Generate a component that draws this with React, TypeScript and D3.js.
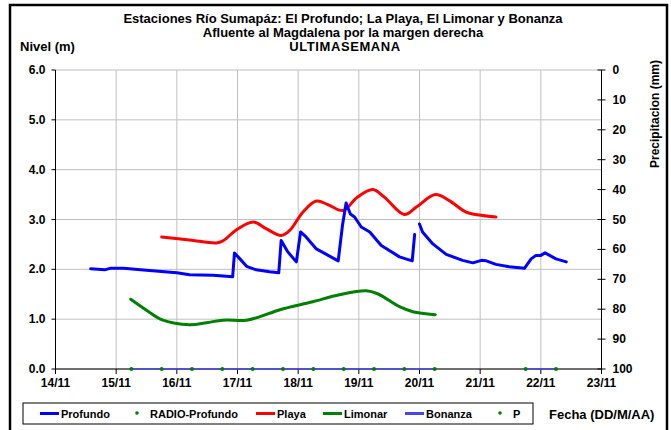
import * as d3 from "d3";

// day offsets from 14/11 00:00
const dayLabels = ["14/11", "15/11", "16/11", "17/11", "18/11", "19/11", "20/11", "21/11", "22/11", "23/11"];
const levelTicks = [0, 1, 2, 3, 4, 5, 6];
const precipTicks = [0, 10, 20, 30, 40, 50, 60, 70, 80, 90, 100];

const profundoDays1 = [0.58, 0.7, 0.81, 0.9, 1.12, 1.5, 2.0, 2.21, 2.6, 2.92, 2.95, 3.04, 3.15, 3.31, 3.53, 3.68, 3.72, 3.83, 3.97, 4.04, 4.13, 4.3, 4.66, 4.73, 4.79, 4.86, 4.93, 5.04, 5.18, 5.37, 5.67, 5.88, 5.92];
const profundoLevel1 = [2.01, 2.0, 1.99, 2.02, 2.02, 1.98, 1.93, 1.89, 1.88, 1.85, 2.33, 2.21, 2.06, 1.99, 1.95, 1.93, 2.58, 2.35, 2.15, 2.75, 2.65, 2.41, 2.17, 2.88, 3.33, 3.11, 3.05, 2.85, 2.75, 2.48, 2.25, 2.17, 2.7];
const profundoDays2 = [6.0, 6.05, 6.22, 6.44, 6.71, 6.88, 7.02, 7.1, 7.26, 7.48, 7.73, 7.84, 7.92, 8.0, 8.07, 8.25, 8.42];
const profundoLevel2 = [2.91, 2.75, 2.51, 2.3, 2.18, 2.13, 2.18, 2.17, 2.1, 2.05, 2.02, 2.21, 2.28, 2.28, 2.33, 2.21, 2.15];

const playaDays = [1.75, 2.21, 2.65, 2.76, 2.98, 3.26, 3.48, 3.72, 3.86, 4.08, 4.3, 4.49, 4.74, 4.97, 5.23, 5.42, 5.75, 5.95, 6.26, 6.49, 6.77, 7.04, 7.26];
const playaLevel = [2.65, 2.59, 2.53, 2.57, 2.79, 2.95, 2.81, 2.68, 2.78, 3.15, 3.37, 3.3, 3.18, 3.44, 3.6, 3.45, 3.1, 3.25, 3.5, 3.38, 3.15, 3.08, 3.05];

const limonarDays = [1.24, 1.5, 1.77, 2.21, 2.49, 2.76, 3.15, 3.37, 3.7, 4.24, 4.68, 5.12, 5.31, 5.67, 5.89, 6.26];
const limonarLevel = [1.4, 1.18, 0.98, 0.89, 0.93, 0.98, 0.98, 1.05, 1.19, 1.35, 1.49, 1.57, 1.51, 1.25, 1.15, 1.09];

const bonanzaDays1 = [1.25, 1.75, 2.25, 2.75, 3.25, 3.75, 4.25, 4.75, 5.25, 5.75, 6.25];
const bonanzaDays2 = [7.75, 8.25];
const bonanzaLevel1 = [0, 0, 0, 0, 0, 0, 0, 0, 0, 0, 0];
const bonanzaLevel2 = [0, 0];

const radioDays = [1.25, 1.75, 2.25, 2.75, 3.25, 3.75, 4.25, 4.75, 5.25, 5.75, 6.25, 7.75, 8.25];
const radioLevel = [0, 0, 0, 0, 0, 0, 0, 0, 0, 0, 0, 0, 0];

const legendItems = [
  { label: "Profundo", kind: "line", color: "#0000ff", x: 40 },
  { label: "RADIO-Profundo", kind: "dot", color: "#008000", x: 131 },
  { label: "Playa", kind: "line", color: "#ff0000", x: 256 },
  { label: "Limonar", kind: "line", color: "#008000", x: 323 },
  { label: "Bonanza", kind: "line", color: "#4848e8", x: 405 },
  { label: "P", kind: "dot", color: "#008000", x: 494 },
];

const font = "'Liberation Sans', Arial, sans-serif";

export default function App() {
  const width = 671;
  const height = 430;
  const left = 55.5;
  const right = 601.5;
  const top = 70;
  const bottom = 369;

  const x = d3.scaleLinear().domain([0, 9]).range([left, right]);
  const y = d3.scaleLinear().domain([0, 6]).range([bottom, top]);
  const yP = d3.scaleLinear().domain([0, 100]).range([top, bottom]);

  const zip = (a: number[], b: number[]) => a.map((d, i) => [d, b[i]] as [number, number]);

  const straight = d3.line<[number, number]>().x((d) => x(d[0])).y((d) => y(d[1]));
  const smooth = d3
    .line<[number, number]>()
    .x((d) => x(d[0]))
    .y((d) => y(d[1]))
    .curve(d3.curveCatmullRom.alpha(0.5));

  return (
    <svg
      width={width}
      height={height}
      style={{ position: "absolute", left: 0, top: 0, background: "#fff" }}
      fontFamily={font}
    >
      {/* outer frame */}
      <rect x={10} y={5} width={657} height={440} fill="none" stroke="#000" strokeWidth={2.5} />

      {/* titles */}
      <g fontWeight="bold" fontSize={13} textAnchor="middle" fill="#000">
        <text x={343} y={23}>Estaciones Río Sumapáz: El Profundo; La Playa, El Limonar y Bonanza</text>
        <text x={343} y={37}>Afluente al Magdalena por la margen derecha</text>
        <text x={345} y={51} letterSpacing={0.6}>ULTIMASEMANA</text>
      </g>
      <text x={20} y={51} fontWeight="bold" fontSize={13}>Nivel (m)</text>

      {/* grid */}
      <g stroke="#c0c0c0" strokeWidth={1}>
        {levelTicks.map((t) => (
          <line key={"h" + t} x1={left} x2={right} y1={y(t)} y2={y(t)} />
        ))}
        {dayLabels.map((d, i) => (
          <line key={"v" + d} x1={x(i)} x2={x(i)} y1={top} y2={bottom} />
        ))}
      </g>

      {/* axes */}
      <g stroke="#000" strokeWidth={1} fill="none">
        <line x1={left} x2={left} y1={top} y2={bottom} />
        <line x1={right} x2={right} y1={top} y2={bottom} />
        <line x1={left} x2={right} y1={bottom} y2={bottom} />
        {levelTicks.map((t) => (
          <line key={"lt" + t} x1={left - 4} x2={left} y1={y(t)} y2={y(t)} />
        ))}
        {precipTicks.map((t) => (
          <line key={"pt" + t} x1={right - 4} x2={right + 4} y1={yP(t)} y2={yP(t)} />
        ))}
        {dayLabels.map((d, i) => (
          <line key={"xt" + d} x1={x(i)} x2={x(i)} y1={bottom} y2={bottom + 5} />
        ))}
      </g>

      <g fontWeight="bold" fontSize={12} fill="#000">
        {levelTicks.map((t) => (
          <text key={"ll" + t} x={left - 10} y={y(t) + 4} textAnchor="end">
            {t.toFixed(1)}
          </text>
        ))}
        {precipTicks.map((t) => (
          <text key={"pl" + t} x={right + 11} y={yP(t) + 4}>
            {t}
          </text>
        ))}
        {dayLabels.map((d, i) => (
          <text key={"xl" + d} x={x(i)} y={bottom + 18} textAnchor="middle">
            {d}
          </text>
        ))}
      </g>
      <text
        transform="translate(659,114) rotate(-90)"
        textAnchor="middle"
        fontWeight="bold"
        fontSize={12}
      >
        Precipitacion (mm)
      </text>

      {/* series */}
      <g fill="none" strokeLinejoin="round" strokeLinecap="round">
        <path d={straight(zip(bonanzaDays1, bonanzaLevel1)) ?? ""} stroke="#4848e8" strokeWidth={1.5} />
        <path d={straight(zip(bonanzaDays2, bonanzaLevel2)) ?? ""} stroke="#4848e8" strokeWidth={1.5} />
        <path d={smooth(zip(limonarDays, limonarLevel)) ?? ""} stroke="#008000" strokeWidth={3} />
        <path d={smooth(zip(playaDays, playaLevel)) ?? ""} stroke="#ff0000" strokeWidth={3} />
        <path d={straight(zip(profundoDays1, profundoLevel1)) ?? ""} stroke="#0000ff" strokeWidth={3} />
        <path d={straight(zip(profundoDays2, profundoLevel2)) ?? ""} stroke="#0000ff" strokeWidth={3} />
      </g>
      <g fill="#008000">
        {radioDays.map((d, i) => (
          <circle key={"r" + i} cx={x(d)} cy={y(radioLevel[i])} r={2} />
        ))}
      </g>

      {/* legend */}
      <rect x={23} y={403} width={510} height={21} fill="#fff" stroke="#000" strokeWidth={1} />
      <g fontWeight="bold" fontSize={11}>
        {legendItems.map((it) => (
          <g key={it.label}>
            {it.kind === "line" ? (
              <line x1={it.x} x2={it.x + 19} y1={413.5} y2={413.5} stroke={it.color} strokeWidth={3} />
            ) : (
              <circle cx={it.x + 6} cy={413} r={1.8} fill={it.color} />
            )}
            <text x={it.kind === "line" ? it.x + 21 : it.x + 19} y={417.5}>
              {it.label}
            </text>
          </g>
        ))}
      </g>
      <text x={549} y={419} fontWeight="bold" fontSize={13}>Fecha (DD/M/AA)</text>
    </svg>
  );
}
